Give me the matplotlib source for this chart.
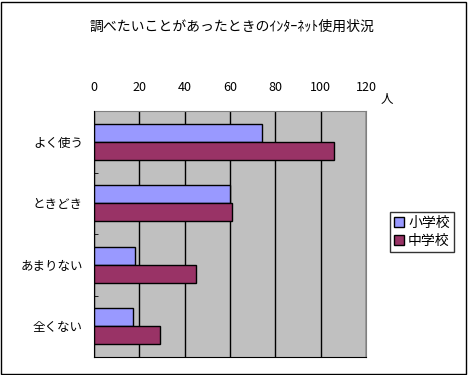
import numpy as np
import matplotlib.pyplot as plt
from matplotlib.patches import Rectangle

plt.rcParams['font.family'] = ['Noto Sans CJK JP', 'DejaVu Sans']

categories = ['よく使う', 'ときどき', 'あまりない', '全くない']
series = ['小学校', '中学校']
elem = [74, 60, 18, 17]
junior = [106, 61, 45, 29]
colors = ['#9999FF', '#993366']

fig = plt.figure(figsize=(4.68, 3.75), dpi=100)
ax = fig.add_axes([94/468, 18/375, 272/468, 246/375])
ax.set_facecolor('#C0C0C0')

y = np.arange(len(categories))
h = 0.29
ax.barh(y - h/2, elem, height=h, color=colors[0], edgecolor='black', linewidth=1, label=series[0], zorder=3)
ax.barh(y + h/2, junior, height=h, color=colors[1], edgecolor='black', linewidth=1, label=series[1], zorder=3)

ax.set_xlim(0, 120)
ax.set_ylim(3.5, -0.5)
ax.set_xticks(range(0, 121, 20))
ax.xaxis.tick_top()
ax.tick_params(axis='x', length=0, pad=12, labelsize=9)
ax.grid(axis='x', color='black', linewidth=1, zorder=1)

ax.set_yticks(y)
ax.set_yticklabels(categories, fontsize=9)
ax.tick_params(axis='y', length=0, pad=8)
ax.set_yticks(np.arange(-0.5, 4, 1), minor=True)
ax.tick_params(axis='y', which='minor', length=3, direction='in', color='black')

for s in ax.spines.values():
    s.set_color('#808080')
ax.spines['left'].set_color('black')
ax.spines['left'].set_zorder(4)
ax.spines['bottom'].set_color('black')

fig.text(232/468, 1 - 27/375, '調べたいことがあったときのｲﾝﾀｰﾈｯﾄ使用状況', ha='center', va='center', fontsize=10)
fig.text(387/468, 1 - 100/375, '人', ha='center', va='center', fontsize=9)

leg = ax.legend(loc='center', bbox_to_anchor=(422/468, 1 - 232/375), bbox_transform=fig.transFigure,
                fontsize=10, frameon=True, fancybox=False, handlelength=0.7, handleheight=0.7,
                handletextpad=0.3, borderpad=0.3, labelspacing=0.3)
leg.get_frame().set_edgecolor('black')
leg.get_frame().set_linewidth(1)

fig.patches.append(Rectangle((0.003, 0.004), 0.992, 0.99, transform=fig.transFigure,
                             fill=False, edgecolor='black', linewidth=1))

fig.savefig('out.png', dpi=100)
